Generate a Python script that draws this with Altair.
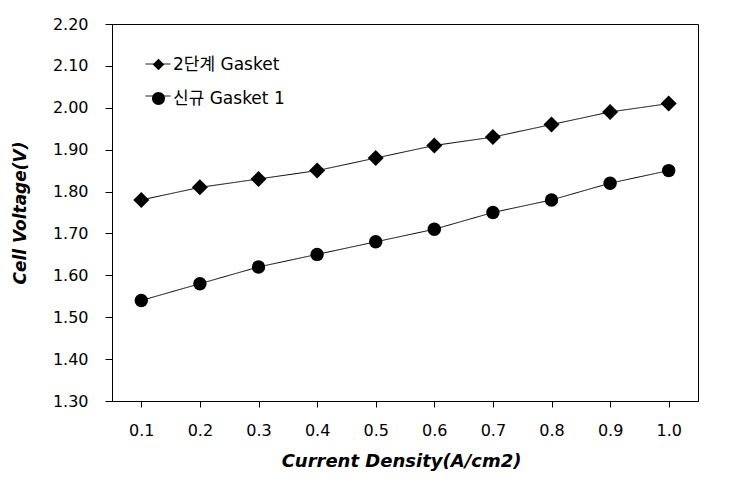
import altair as alt
import pandas as pd

current = ["0.1", "0.2", "0.3", "0.4", "0.5", "0.6", "0.7", "0.8", "0.9", "1.0"]
series_names = ["2단계 Gasket", "신규 Gasket 1"]
voltage_2step = [1.78, 1.81, 1.83, 1.85, 1.88, 1.91, 1.93, 1.96, 1.99, 2.01]
voltage_new = [1.54, 1.58, 1.62, 1.65, 1.68, 1.71, 1.75, 1.78, 1.82, 1.85]
y_ticks = [1.30, 1.40, 1.50, 1.60, 1.70, 1.80, 1.90, 2.00, 2.10, 2.20]

rows = []
for c, v in zip(current, voltage_2step):
    rows.append({"current": c, "voltage": v, "series": series_names[0]})
for c, v in zip(current, voltage_new):
    rows.append({"current": c, "voltage": v, "series": series_names[1]})
df = pd.DataFrame(rows)

FONT = "DejaVu Sans, Noto Sans CJK KR"

x_enc = alt.X(
    "current:O",
    sort=current,
    scale=alt.Scale(type="point", padding=0.5),
    axis=alt.Axis(
        title="Current Density(A/cm2)",
        labelAngle=0,
        tickSize=6,
        labelPadding=15,
        titlePadding=14,
        titleFontSize=18,
        titleX=289,
        domainColor="black",
        tickColor="black",
        grid=False,
    ),
)
y_enc = alt.Y(
    "voltage:Q",
    scale=alt.Scale(domain=[1.3, 2.2], nice=False, zero=False),
    axis=alt.Axis(
        title="Cell Voltage(V)",
        values=y_ticks,
        format=".2f",
        tickSize=7,
        labelPadding=17,
        titlePadding=23,
        domainColor="black",
        tickColor="black",
        grid=False,
    ),
)

LEG_X = 33
LEG_Y = 27
LEG_COMMON = dict(
    title=None,
    orient="none",
    legendX=LEG_X,
    legendY=LEG_Y,
    symbolSize=625,
    labelOffset=1,
    rowPadding=11,
    padding=0,
    labelFontSize=17,
    labelFont=FONT,
    labelColor="black",
)

base = alt.Chart(df)

# line layer: its legend draws the horizontal line of each legend entry
lines = base.mark_line(color="black", strokeWidth=1).encode(
    x=x_enc,
    y=y_enc,
    strokeDash=alt.StrokeDash(
        "series:N",
        scale=alt.Scale(domain=series_names, range=[[1, 0], [1, 0]]),
        legend=alt.Legend(
            symbolType="stroke",
            symbolStrokeColor="black",
            symbolStrokeWidth=1,
            labelExpr="''",
            **LEG_COMMON,
        ),
    ),
)

points = base.mark_point(filled=True, color="black", opacity=1).encode(
    x=x_enc,
    y=y_enc,
    shape=alt.Shape(
        "series:N",
        scale=alt.Scale(domain=series_names, range=["diamond", "circle"]),
        legend=None,
    ),
    size=alt.Size(
        "series:N",
        scale=alt.Scale(domain=series_names, range=[256, 180]),
        legend=None,
    ),
)

legend_paths = [
    "M0,-0.46L0.46,0L0,0.46L-0.46,0Z",
    "M0.52,0A0.52,0.52,0,1,1,-0.52,0A0.52,0.52,0,1,1,0.52,0Z",
]

# invisible layer whose legend draws the marker of each legend entry
legend_layer = base.mark_point(filled=True, color="black", opacity=0).encode(
    x=x_enc,
    y=y_enc,
    shape=alt.Shape(
        "series:N",
        scale=alt.Scale(domain=series_names, range=legend_paths),
        legend=alt.Legend(
            symbolOpacity=1,
            symbolFillColor="black",
            **LEG_COMMON,
        ),
    ),
)

chart = (
    alt.layer(lines, points, legend_layer)
    .resolve_scale(shape="independent", size="independent", strokeDash="independent")
    .resolve_legend(shape="independent", strokeDash="independent")
    .properties(
        width=586,
        height=377,
        autosize=alt.AutoSizeParams(type="none"),
        padding={"left": 112, "top": 24, "right": 32, "bottom": 88},
    )
    .configure(font=FONT, background="white")
    .configure_view(stroke="black", strokeWidth=1)
    .configure_axis(
        labelFont=FONT,
        labelFontSize=16,
        labelColor="black",
        titleFont=FONT,
        titleFontSize=17,
        titleFontWeight="bold",
        titleFontStyle="italic",
        titleColor="black",
        domainWidth=1,
        tickWidth=1,
    )
)

chart.save("out.html", embed_options={"renderer": "svg", "actions": False})
